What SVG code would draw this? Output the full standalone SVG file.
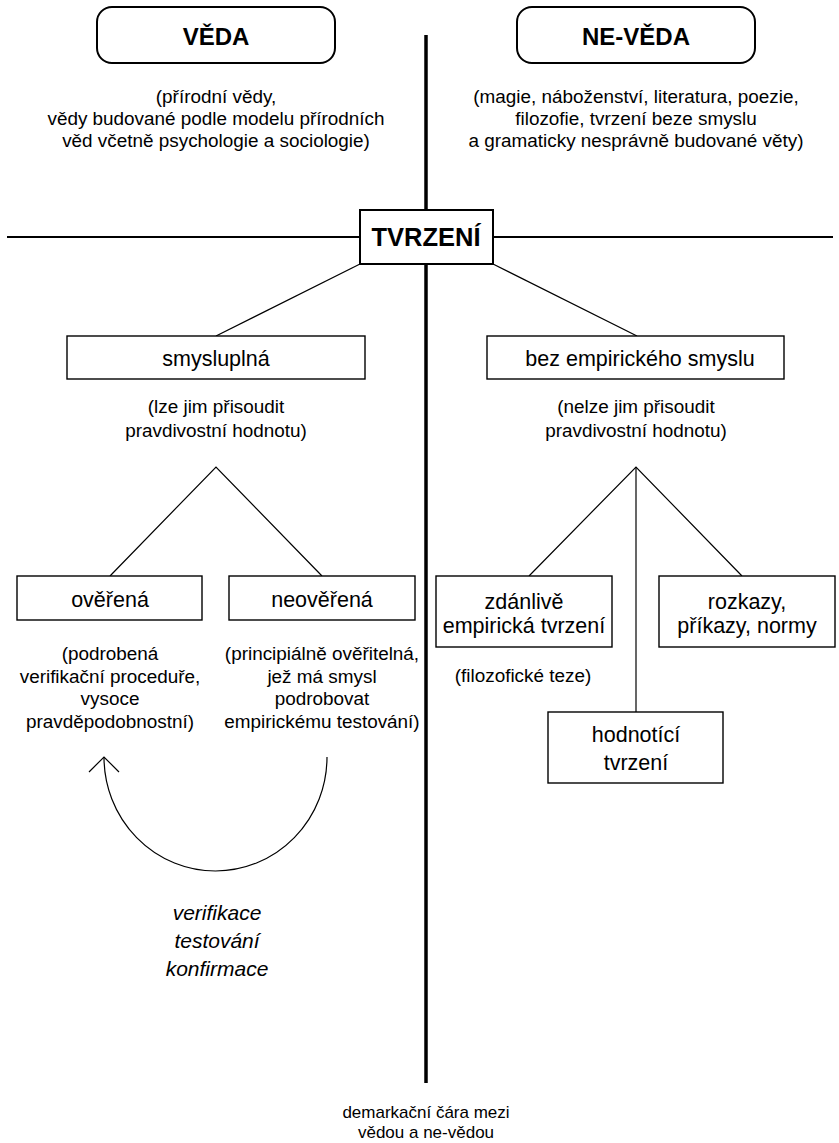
<svg xmlns="http://www.w3.org/2000/svg" width="839" height="1143" viewBox="0 0 839 1143">
<style>
text{font-family:"Liberation Sans",Arial,sans-serif;fill:#000;text-anchor:middle}
.t{font-size:18.9px}
.l{font-size:21.5px}
.h{font-size:24px;font-weight:bold}
.it{font-size:21px;font-style:italic}
.s{font-size:17px}
.box{fill:#fff;stroke:#000;stroke-width:1.4}
.rbox{fill:#fff;stroke:#000;stroke-width:2}
.c{fill:none;stroke:#000;stroke-width:1.2}
</style>
<rect width="839" height="1143" fill="#fff"/>
<g id="axes">
<line x1="426" y1="35" x2="426" y2="1083" stroke="#000" stroke-width="3.5"/>
<line x1="7" y1="237" x2="833" y2="237" stroke="#000" stroke-width="1.8"/>
</g>
<g id="connectors">
<line class="c" x1="360" y1="264" x2="216" y2="336"/>
<line class="c" x1="493" y1="264" x2="637" y2="336"/>
<polyline class="c" points="110,576 216,467 322,576"/>
<polyline class="c" points="529,576 636,467 742,576"/>
<line class="c" x1="636" y1="467" x2="636" y2="712"/>
<path class="c" d="M327,757 A111.5,114 0 0 1 104,757"/>
<polyline class="c" points="89,772 104,757 119,772"/>
</g>
<g id="veda">
<rect class="rbox" x="97" y="7" width="238" height="56" rx="15"/>
<text class="h" x="216" y="45">VĚDA</text>
</g>
<g id="veda-desc">
<text class="t" x="216" y="103">(přírodní vědy,</text>
<text class="t" x="216" y="125">vědy budované podle modelu přírodních</text>
<text class="t" x="216" y="147">věd včetně psychologie a sociologie)</text>
</g>
<g id="neveda">
<rect class="rbox" x="517" y="7" width="238" height="56" rx="15"/>
<text class="h" x="636" y="45">NE-VĚDA</text>
</g>
<g id="neveda-desc">
<text class="t" x="636" y="103">(magie, náboženství, literatura, poezie,</text>
<text class="t" x="636" y="125">filozofie, tvrzení beze smyslu</text>
<text class="t" x="636" y="147">a gramaticky nesprávně budované věty)</text>
</g>
<g id="tvrzeni">
<rect x="360" y="210" width="133" height="54" fill="#fff" stroke="#000" stroke-width="2"/>
<text x="426" y="246" style="font-size:25.5px;font-weight:bold">TVRZENÍ</text>
</g>
<g id="smysluplna">
<rect class="box" x="67" y="336" width="298" height="43"/>
<text class="l" x="216" y="366">smysluplná</text>
<text class="t" x="216" y="413">(lze jim přisoudit</text>
<text class="t" x="216" y="437">pravdivostní hodnotu)</text>
</g>
<g id="bez">
<rect class="box" x="487" y="336" width="297" height="43"/>
<text class="l" x="640" y="366">bez empirického smyslu</text>
<text class="t" x="636" y="413">(nelze jim přisoudit</text>
<text class="t" x="636" y="437">pravdivostní hodnotu)</text>
</g>
<g id="overena">
<rect class="box" x="17" y="576" width="185" height="44"/>
<text class="l" x="110" y="607">ověřená</text>
<text class="t" x="110" y="660">(podrobená</text>
<text class="t" x="110" y="683">verifikační proceduře,</text>
<text class="t" x="110" y="705">vysoce</text>
<text class="t" x="110" y="728">pravděpodobnostní)</text>
</g>
<g id="neoverena">
<rect class="box" x="229" y="576" width="186" height="44"/>
<text class="l" x="322" y="607">neověřená</text>
<text class="t" x="322" y="660">(principiálně ověřitelná,</text>
<text class="t" x="322" y="683">jež má smysl</text>
<text class="t" x="322" y="705">podrobovat</text>
<text class="t" x="322" y="728">empirickému testování)</text>
</g>
<g id="cycle-label">
<text class="it" x="217" y="920">verifikace</text>
<text class="it" x="217" y="948">testování</text>
<text class="it" x="217" y="976">konfirmace</text>
</g>
<g id="zdanlive">
<rect class="box" x="436" y="576" width="176" height="71"/>
<text class="l" x="524" y="609">zdánlivě</text>
<text class="l" x="524" y="633">empirická tvrzení</text>
<text class="t" x="523" y="682">(filozofické teze)</text>
</g>
<g id="rozkazy">
<rect class="box" x="659" y="576" width="176" height="71"/>
<text class="l" x="747" y="609">rozkazy,</text>
<text class="l" x="747" y="633">příkazy, normy</text>
</g>
<g id="hodnotici">
<rect class="box" x="548" y="712" width="175" height="71"/>
<text class="l" x="636" y="742">hodnotící</text>
<text class="l" x="636" y="770">tvrzení</text>
</g>
<g id="demarcation">
<text class="s" x="426" y="1118">demarkační čára mezi</text>
<text class="s" x="426" y="1138">vědou a ne-vědou</text>
</g>
</svg>
